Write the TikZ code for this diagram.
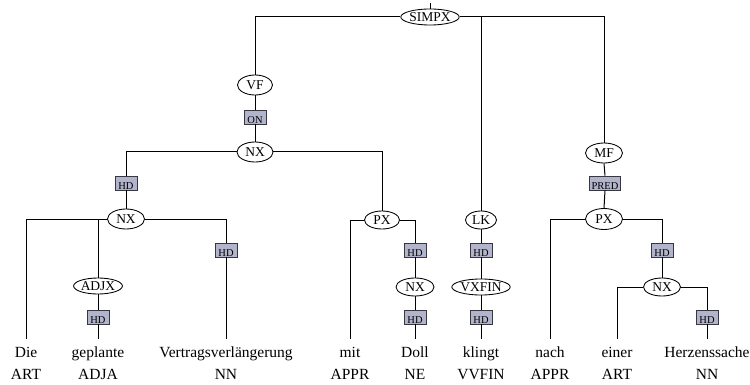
\documentclass[tikz,border=0pt]{standalone}
\usepackage{fontspec}
\setmainfont{Liberation Serif}
\usetikzlibrary{shapes.geometric}
\definecolor{edgefill}{RGB}{178,180,204}
\definecolor{edgeline}{RGB}{55,55,65}
\begin{document}
\begin{tikzpicture}[x=1pt,y=-1pt,
  tree/.style={line width=1pt, black},
  cat/.style={ellipse, draw, line width=0.85pt, fill=white, inner sep=0pt,
    minimum width=#1, minimum height=18pt, font=\fontsize{13.5}{14}\selectfont},
  cat/.default=36pt,
  func/.style={rectangle, draw=edgeline, line width=0.75pt, fill=edgefill,
    inner xsep=0pt, inner ysep=0.5pt, text height=13pt, text depth=0pt,
    minimum width=#1, font=\fontsize{10.5}{11}\selectfont},
  func/.default=22pt,
  word/.style={anchor=base, inner xsep=2pt, inner ysep=6pt, text height=12pt,
    text depth=3pt, font=\fontsize{15.5}{16}\selectfont},
  tag/.style={anchor=base, inner sep=1pt, font=\fontsize{15.5}{16}\selectfont}]
\useasboundingbox (0,0) rectangle (750,385);

% phrase and field nodes
\node[cat=55pt, minimum height=16pt] (simpx) at (430,17) {SIMPX};
\coordinate (top) at (430,3);
\node[cat=35pt, minimum height=20pt] (vf) at (255,85) {VF};
\node[func] (on) at (255,117) {ON};
\node[cat=36pt, minimum height=20pt] (nxa) at (255,152) {NX};
\node[func] (hda) at (126,183) {HD};
\node[cat=37pt, minimum height=20pt] (nxb) at (126,219) {NX};
\node[cat=44pt, minimum height=16pt] (adjx) at (98,286) {ADJX};
\node[func] (hdb) at (98,317) {HD};
\node[func] (hdc) at (226,250) {HD};
\node[cat=35pt] (pxa) at (382,220) {PX};
\node[func] (hdd) at (415,250) {HD};
\node[cat=38pt] (nxc) at (415,287) {NX};
\node[func] (hde) at (415,317) {HD};
\node[cat=31pt] (lk) at (481,220) {LK};
\node[func] (hdf) at (481,250) {HD};
\node[cat=55pt, minimum height=16pt] (vxfin) at (481,287) {VXFIN};
\node[func] (hdg) at (481,317) {HD};
\node[cat=37pt, minimum height=20pt] (mf) at (604,153) {MF};
\node[func=31pt] (pred) at (605,183) {PRED};
\node[cat=37pt, minimum height=21pt] (pxb) at (604,219) {PX};
\node[func] (hdh) at (662,250) {HD};
\node[cat=37pt] (nxd) at (662,287) {NX};
\node[func] (hdi) at (707,317) {HD};

% tokens and their part-of-speech tags
\node[word] (w1) at (26,357) {Die};
\node[word] (w2) at (98,357) {geplante};
\node[word] (w3) at (226,357) {Vertragsverlängerung};
\node[word] (w4) at (350,357) {mit};
\node[word] (w5) at (415,357) {Doll};
\node[word] (w6) at (481,357) {klingt};
\node[word] (w7) at (550,357) {nach};
\node[word] (w8) at (617,357) {einer};
\node[word] (w9) at (707,357) {Herzenssache};

\node[tag] (t1) at (26,379) {ART};
\node[tag] (t2) at (98,379) {ADJA};
\node[tag] (t3) at (226,379) {NN};
\node[tag] (t4) at (350,379) {APPR};
\node[tag] (t5) at (415,379) {NE};
\node[tag] (t6) at (481,379) {VVFIN};
\node[tag] (t7) at (550,379) {APPR};
\node[tag] (t8) at (617,379) {ART};
\node[tag] (t9) at (707,379) {NN};

% branches
\begin{scope}[tree]
  \draw (simpx.north) -- (top);
  \draw (simpx.west) -| (vf.north);
  \draw (simpx.east) -| (lk.north);
  \draw (simpx.east) -| (mf.north);

  \draw (vf.south) -- (on.north);
  \draw (on.south) -- (nxa.north);
  \draw (nxa.west) -| (hda.north);
  \draw (hda.south) -- (nxb.north);
  \draw (nxa.east) -| (pxa.north);

  \draw (nxb.west) -| (w1.north);
  \draw (nxb.west) -| (adjx.north);
  \draw (adjx.south) -- (hdb.north);
  \draw (hdb.south) -- (w2.north);
  \draw (nxb.east) -| (hdc.north);
  \draw (hdc.south) -- (w3.north);

  \draw (pxa.west) -| (w4.north);
  \draw (pxa.east) -| (hdd.north);
  \draw (hdd.south) -- (nxc.north);
  \draw (nxc.south) -- (hde.north);
  \draw (hde.south) -- (w5.north);

  \draw (lk.south) -- (hdf.north);
  \draw (hdf.south) -- (vxfin.north);
  \draw (vxfin.south) -- (hdg.north);
  \draw (hdg.south) -- (w6.north);

  \draw (mf.south) -- (pred.north);
  \draw (pred.south) -- (pxb.north);
  \draw (pxb.west) -| (w7.north);
  \draw (pxb.east) -| (hdh.north);
  \draw (hdh.south) -- (nxd.north);
  \draw (nxd.west) -| (w8.north);
  \draw (nxd.east) -| (hdi.north);
  \draw (hdi.south) -- (w9.north);
\end{scope}
\end{tikzpicture}
\end{document}
